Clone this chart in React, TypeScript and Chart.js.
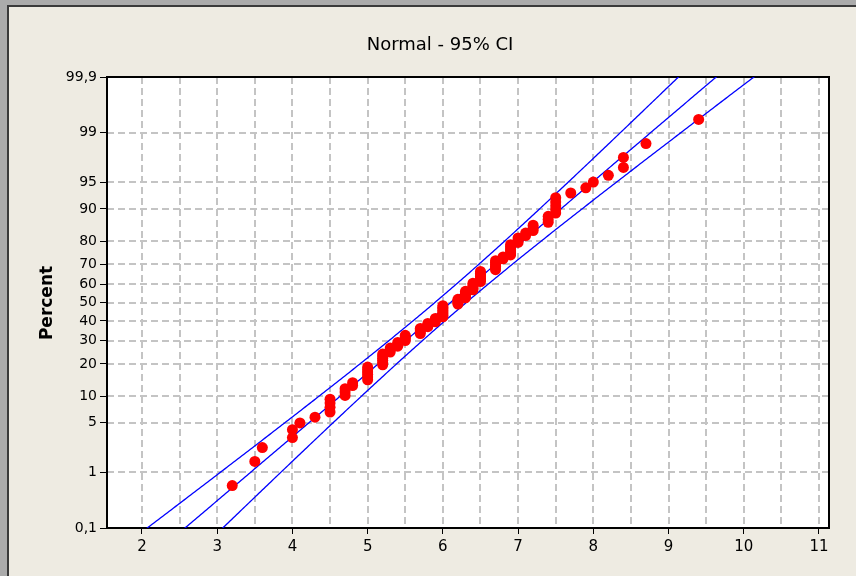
import React, { useEffect, useRef } from "react";
import { Chart, registerables } from "chart.js";

Chart.register(...registerables);

const TITLE = "Normal - 95% CI";
const Y_TITLE = "Percent";

// Observed values (one decimal place) and how often each one occurs
const SAMPLE_VALUES = [
  3.2, 3.5, 3.6, 4.0, 4.1, 4.3, 4.5, 4.7, 4.8, 5.0, 5.2, 5.3, 5.4, 5.5, 5.7, 5.8, 5.9, 6.0, 6.2,
  6.3, 6.4, 6.5, 6.7, 6.8, 6.9, 7.0, 7.1, 7.2, 7.4, 7.5, 7.7, 7.9, 8.0, 8.2, 8.4, 8.7, 9.4,
];
const SAMPLE_COUNTS = [
  1, 1, 1, 2, 1, 1, 4, 3, 2, 6, 6, 3, 3, 4, 4, 3, 3, 8, 4,
  5, 5, 7, 6, 2, 6, 3, 2, 3, 3, 5, 1, 1, 1, 1, 2, 1, 1,
];

// Probability axis
const PERCENT_TICKS = [0.1, 1, 5, 10, 20, 30, 40, 50, 60, 70, 80, 90, 95, 99, 99.9];
const PERCENT_LABELS = ["0,1", "1", "5", "10", "20", "30", "40", "50", "60", "70", "80", "90", "95", "99", "99,9"];

// Value axis: grid every half unit, labels on whole units
const X_TICKS = [2, 2.5, 3, 3.5, 4, 4.5, 5, 5.5, 6, 6.5, 7, 7.5, 8, 8.5, 9, 9.5, 10, 10.5, 11];
const X_MIN = 1.535;
const X_MAX = 11.133;

const CONFIDENCE = 0.95;

const FONT_FAMILY = '"DejaVu Sans", "Liberation Sans", sans-serif';

// Inverse of the standard normal CDF (Acklam's rational approximation)
function invNorm(p: number): number {
  const a = [-3.969683028665376e1, 2.209460984245205e2, -2.759285104469687e2, 1.38357751867269e2, -3.066479806614716e1, 2.506628277459239];
  const b = [-5.447609879822406e1, 1.615858368580409e2, -1.556989798598866e2, 6.680131188771972e1, -1.328068155288572e1];
  const c = [-7.784894002430293e-3, -3.223964580411365e-1, -2.400758277161838, -2.549732539343734, 4.374664141464968, 2.938163982698783];
  const d = [7.784695709041462e-3, 3.224671290700398e-1, 2.445134137142996, 3.754408661907416];
  const pl = 0.02425;
  if (p < pl) {
    const q = Math.sqrt(-2 * Math.log(p));
    return (((((c[0] * q + c[1]) * q + c[2]) * q + c[3]) * q + c[4]) * q + c[5]) / ((((d[0] * q + d[1]) * q + d[2]) * q + d[3]) * q + 1);
  }
  if (p <= 1 - pl) {
    const q = p - 0.5;
    const r = q * q;
    return ((((((a[0] * r + a[1]) * r + a[2]) * r + a[3]) * r + a[4]) * r + a[5]) * q) / (((((b[0] * r + b[1]) * r + b[2]) * r + b[3]) * r + b[4]) * r + 1);
  }
  const q = Math.sqrt(-2 * Math.log(1 - p));
  return -(((((c[0] * q + c[1]) * q + c[2]) * q + c[3]) * q + c[4]) * q + c[5]) / ((((d[0] * q + d[1]) * q + d[2]) * q + d[3]) * q + 1);
}

const Z_MIN = invNorm(PERCENT_TICKS[0] / 100);
const Z_MAX = invNorm(PERCENT_TICKS[PERCENT_TICKS.length - 1] / 100);

// Sorted sample and its median-rank plotting positions
function buildPoints() {
  const sorted: number[] = [];
  SAMPLE_VALUES.forEach((v, i) => {
    for (let k = 0; k < SAMPLE_COUNTS[i]; k++) sorted.push(v);
  });
  const n = sorted.length;
  const points = sorted.map((v, i) => ({ x: v, y: invNorm((i + 1 - 0.3) / (n + 0.4)) }));
  const mean = sorted.reduce((s, v) => s + v, 0) / n;
  const sd = Math.sqrt(sorted.reduce((s, v) => s + (v - mean) * (v - mean), 0) / (n - 1));
  return { points, n, mean, sd };
}

// Fitted percentile line and its confidence band
function buildFitLines(n: number, mean: number, sd: number) {
  const zc = invNorm(1 - (1 - CONFIDENCE) / 2);
  const fit: { x: number; y: number }[] = [];
  const lower: { x: number; y: number }[] = [];
  const upper: { x: number; y: number }[] = [];
  const zLo = invNorm(0.0004);
  const zHi = invNorm(0.9996);
  const steps = 300;
  for (let k = 0; k <= steps; k++) {
    const z = zLo + ((zHi - zLo) * k) / steps;
    const xp = mean + z * sd;
    const se = sd * Math.sqrt(1 / n + (z * z) / (2 * n));
    fit.push({ x: xp, y: z });
    lower.push({ x: xp - zc * se, y: z });
    upper.push({ x: xp + zc * se, y: z });
  }
  return { fit, lower, upper };
}

const backdrop = {
  id: "backdrop",
  beforeDraw(chart: any) {
    const { ctx, width, height, chartArea } = chart;
    ctx.save();
    ctx.fillStyle = "#ababab";
    ctx.fillRect(0, 0, width, height);
    ctx.fillStyle = "#3a3a3a";
    ctx.fillRect(7, 5, width - 7, height - 5);
    ctx.fillStyle = "#eeebe2";
    ctx.fillRect(9, 7, width - 9, height - 7);
    ctx.fillStyle = "#ffffff";
    ctx.fillRect(chartArea.left, chartArea.top, chartArea.right - chartArea.left, chartArea.bottom - chartArea.top);

    ctx.fillStyle = "#000";
    ctx.font = `18px ${FONT_FAMILY}`;
    ctx.textAlign = "center";
    ctx.textBaseline = "alphabetic";
    ctx.fillText(TITLE, 440, 50);

    ctx.translate(52, 303);
    ctx.rotate(-Math.PI / 2);
    ctx.font = `bold 17px ${FONT_FAMILY}`;
    ctx.fillText(Y_TITLE, 0, 0);
    ctx.restore();
  },
  beforeDatasetsDraw(chart: any) {
    const { ctx, chartArea, scales } = chart;
    const { left, right, top, bottom } = chartArea;
    ctx.save();
    ctx.beginPath();
    ctx.rect(left, top, right - left, bottom - top);
    ctx.clip();
    ctx.strokeStyle = "#c4c4c4";
    ctx.lineWidth = 2;
    ctx.setLineDash([7, 4]);
    X_TICKS.forEach((v) => {
      const px = Math.round(scales.x.getPixelForValue(v));
      ctx.beginPath();
      ctx.moveTo(px, top);
      ctx.lineTo(px, bottom);
      ctx.stroke();
    });
    PERCENT_TICKS.slice(1, -1).forEach((p) => {
      const py = Math.round(scales.y.getPixelForValue(invNorm(p / 100)));
      ctx.beginPath();
      ctx.moveTo(left, py);
      ctx.lineTo(right, py);
      ctx.stroke();
    });
    ctx.restore();

    ctx.save();
    ctx.strokeStyle = "#000";
    ctx.lineWidth = 2;
    ctx.strokeRect(left, top, right - left, bottom - top);
    ctx.restore();
  },
};

export default function App() {
  const canvasRef = useRef<HTMLCanvasElement | null>(null);

  useEffect(() => {
    if (!canvasRef.current) return;
    const { points, n, mean, sd } = buildPoints();
    const { fit, lower, upper } = buildFitLines(n, mean, sd);
    const lineStyle = {
      showLine: true,
      pointRadius: 0,
      borderColor: "#0000ff",
      borderWidth: 1.3,
      fill: false,
      tension: 0,
    };

    const chart = new Chart(canvasRef.current, {
      type: "scatter",
      data: {
        datasets: [
          {
            label: "Sample",
            data: points,
            pointRadius: 5.5,
            pointBackgroundColor: "#ff0000",
            pointBorderColor: "#ff0000",
            pointBorderWidth: 0,
          },
          { label: "Fit", data: fit, ...lineStyle },
          { label: "Lower", data: lower, ...lineStyle },
          { label: "Upper", data: upper, ...lineStyle },
        ],
      },
      options: {
        animation: false,
        responsive: false,
        maintainAspectRatio: false,
        layout: { padding: { left: 0, top: 77, right: 27, bottom: 0 } },
        plugins: {
          legend: { display: false },
          tooltip: { enabled: false },
          title: { display: false },
        },
        scales: {
          x: {
            type: "linear",
            min: X_MIN,
            max: X_MAX,
            afterBuildTicks: (s: any) => {
              s.ticks = X_TICKS.map((v) => ({ value: v }));
            },
            afterFit: (s: any) => {
              s.height = 48;
            },
            border: { display: false },
            grid: {
              drawOnChartArea: false,
              drawTicks: true,
              tickLength: 6,
              tickWidth: 1,
              tickColor: (c: any) => (c.tick && Number.isInteger(c.tick.value) ? "#000" : "rgba(0,0,0,0)"),
            },
            ticks: {
              autoSkip: false,
              maxRotation: 0,
              padding: 4,
              color: "#000",
              font: { family: FONT_FAMILY, size: 15 },
              callback: (v: any) => (Number.isInteger(v) ? String(v) : ""),
            },
          },
          y: {
            type: "linear",
            min: Z_MIN,
            max: Z_MAX,
            afterBuildTicks: (s: any) => {
              s.ticks = PERCENT_TICKS.map((p) => ({ value: invNorm(p / 100) }));
            },
            afterFit: (s: any) => {
              s.width = 107;
            },
            border: { display: false },
            grid: {
              drawOnChartArea: false,
              drawTicks: true,
              tickLength: 7,
              tickWidth: 1,
              tickColor: "#000",
            },
            ticks: {
              autoSkip: false,
              padding: 3,
              color: "#000",
              font: { family: FONT_FAMILY, size: 14 },
              callback: (_v: any, i: number) => PERCENT_LABELS[i],
            },
          },
        },
      },
      plugins: [backdrop],
    } as any);

    return () => chart.destroy();
  }, []);

  return (
    <div style={{ position: "absolute", left: 0, top: 0, width: 856, height: 576 }}>
      <canvas ref={canvasRef} width={856} height={576} style={{ width: 856, height: 576, display: "block" }} />
    </div>
  );
}
